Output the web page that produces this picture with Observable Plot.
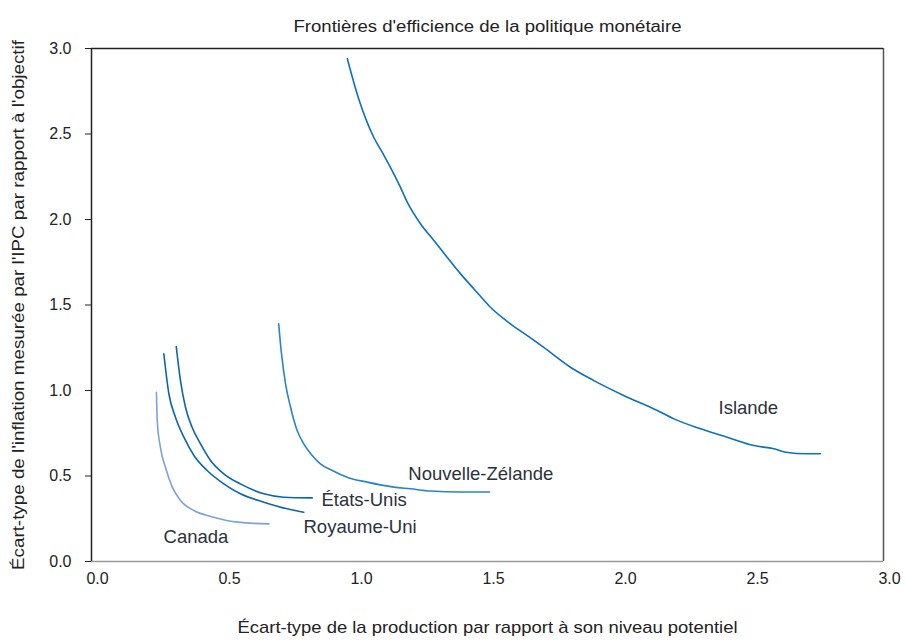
<!DOCTYPE html>
<html>
<head>
<meta charset="utf-8">
<script src="https://cdn.jsdelivr.net/npm/d3@7"></script>
<script src="https://cdn.jsdelivr.net/npm/@observablehq/plot@0.6"></script>
<style>
  html, body { margin: 0; padding: 0; background: #fff; }
  #chart { width: 905px; height: 641px; }
</style>
</head>
<body>
<div id="chart"></div>
<script>
// ---- Data ----
const islandeX = [0.969, 1.012, 1.069, 1.101, 1.170, 1.196, 1.246, 1.297, 1.347, 1.398, 1.448, 1.511, 1.587, 1.663, 1.713, 1.814, 1.903, 2.016, 2.143, 2.206, 2.307, 2.408, 2.509, 2.585, 2.629, 2.711, 2.761];
const islandeY = [2.940, 2.706, 2.481, 2.394, 2.189, 2.101, 1.975, 1.877, 1.779, 1.682, 1.595, 1.487, 1.390, 1.308, 1.252, 1.136, 1.058, 0.971, 0.883, 0.834, 0.776, 0.727, 0.678, 0.659, 0.639, 0.630, 0.630];

const nzX = [0.709, 0.719, 0.735, 0.754, 0.779, 0.804, 0.836, 0.867, 0.912, 0.968, 1.044, 1.145, 1.208, 1.284, 1.398, 1.508];
const nzY = [1.390, 1.224, 1.039, 0.902, 0.766, 0.688, 0.620, 0.571, 0.532, 0.493, 0.464, 0.435, 0.425, 0.412, 0.406, 0.406];

const usX = [0.321, 0.337, 0.356, 0.381, 0.413, 0.451, 0.501, 0.564, 0.653, 0.728, 0.836];
const usY = [1.257, 1.058, 0.902, 0.785, 0.688, 0.591, 0.513, 0.454, 0.396, 0.376, 0.372];

const ukX = [0.274, 0.293, 0.318, 0.350, 0.388, 0.438, 0.501, 0.564, 0.653, 0.741, 0.804];
const ukY = [1.215, 0.981, 0.844, 0.727, 0.620, 0.532, 0.454, 0.396, 0.347, 0.308, 0.288];

const caX = [0.246, 0.249, 0.261, 0.280, 0.306, 0.337, 0.388, 0.463, 0.552, 0.672];
const caY = [0.990, 0.825, 0.668, 0.551, 0.435, 0.357, 0.298, 0.259, 0.230, 0.220];

const seriesNames = ["Islande", "Nouvelle-Zélande", "États-Unis", "Royaume-Uni", "Canada"];
const seriesColors = ["#0a72bd", "#2a84c7", "#0a67ab", "#0a67ab", "#7ba3da"];

const labelX = [2.375, 1.20, 0.871, 0.803, 0.273];
const labelY = [0.90, 0.509, 0.357, 0.199, 0.140];

const xTicks = [0, 0.5, 1.0, 1.5, 2.0, 2.5, 3.0];
const yTicks = [0, 0.5, 1.0, 1.5, 2.0, 2.5, 3.0];

const titleText = "Frontières d'efficience de la politique monétaire";
const xTitle = "Écart-type de la production par rapport à son niveau potentiel";
const yTitle = "Écart-type de l'inflation mesurée par l'IPC par rapport à l'objectif";

// ---- Build tables ----
const allX = [islandeX, nzX, usX, ukX, caX];
const allY = [islandeY, nzY, usY, ukY, caY];
const lineData = seriesNames.flatMap((name, s) =>
  allX[s].map((x, i) => ({ serie: name, x, y: allY[s][i] }))
);
const labelData = seriesNames.map((name, i) => ({ name, x: labelX[i], y: labelY[i] }));

const font = "'Liberation Sans', Arial, Helvetica, sans-serif";

const chart = Plot.plot({
  width: 905,
  height: 641,
  marginTop: 48,
  marginLeft: 91,
  marginRight: 22,
  marginBottom: 80,
  style: { fontFamily: font, background: "#fff" },
  x: { domain: [0, 3] },
  y: { domain: [0, 3] },
  color: { domain: seriesNames, range: seriesColors },
  marks: [
    Plot.ruleY([0], { stroke: "#9a9a9a", strokeWidth: 1.5 }),
    Plot.ruleX([3], { stroke: "#555", strokeWidth: 1.5 }),
    Plot.ruleX([0], { stroke: "#222", strokeWidth: 1.5 }),
    Plot.ruleY([3], { stroke: "#222", strokeWidth: 1.5 }),
    Plot.axisY({
      ticks: yTicks, tickFormat: d3.format(".1f"), tickSize: 6, tickPadding: 14,
      fontSize: 16, fill: "#222", stroke: "#222", label: null
    }),
    Plot.axisX({
      ticks: xTicks, tickFormat: d3.format(".1f"), tickSize: 0, tickPadding: 11,
      dx: 6, fontSize: 16, fill: "#222", label: null
    }),
    Plot.line(lineData, { x: "x", y: "y", z: "serie", stroke: "serie", strokeWidth: 1.6, curve: "monotone-x" }),
    Plot.text(labelData, {
      x: "x", y: "y", text: "name", textAnchor: "start",
      fontSize: 18.5, fill: "#2a323d"
    }),
    Plot.text([titleText], {
      frameAnchor: "top", dy: -28, fontSize: 16, fill: "#222", className: "t-title"
    }),
    Plot.text([xTitle], {
      frameAnchor: "bottom", dy: 71, fontSize: 17, fill: "#222", className: "t-xtitle"
    }),
    Plot.text([yTitle], {
      frameAnchor: "left", dx: -73, dy: 0, rotate: -90, textAnchor: "middle",
      fontSize: 17, fill: "#222", className: "t-ytitle"
    })
  ]
});

// Condense the title texts to the reference's widths (narrow face look)
const fit = (cls, len) => {
  chart.querySelectorAll(`.${cls} text`).forEach(t => {
    t.setAttribute("textLength", len);
    t.setAttribute("lengthAdjust", "spacingAndGlyphs");
  });
};
fit("t-title", 388);
fit("t-xtitle", 500);
fit("t-ytitle", 530);

document.getElementById("chart").appendChild(chart);
</script>
</body>
</html>
